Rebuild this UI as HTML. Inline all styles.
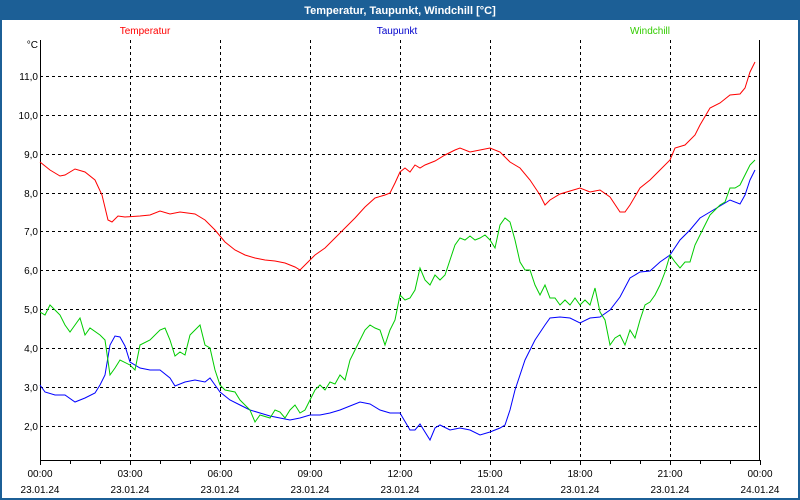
<!DOCTYPE html><html><head><style>body{margin:0;background:#fff}svg{display:block;font-family:"Liberation Sans",sans-serif}</style></head><body>
<svg width="800" height="500" xmlns="http://www.w3.org/2000/svg">
<rect x="0" y="0" width="800" height="500" fill="#1c5f96"/>
<rect x="2" y="20" width="796" height="478" fill="#fff"/>
<text x="400" y="14" fill="#fff" font-size="11" font-weight="bold" text-anchor="middle">Temperatur, Taupunkt, Windchill [°C]</text>
<text x="145" y="34" fill="#ff0000" font-size="10" text-anchor="middle">Temperatur</text>
<text x="397" y="34" fill="#0000cc" font-size="10" text-anchor="middle">Taupunkt</text>
<text x="650" y="34" fill="#33cc00" font-size="10" text-anchor="middle">Windchill</text>
<g stroke="#000" stroke-dasharray="3,3" stroke-width="1">
<path d="M130.5 40V460M220.5 40V460M310.5 40V460M400.5 40V460M490.5 40V460M580.5 40V460M670.5 40V460"/>
<path d="M40 76.5H760M40 115.5H760M40 154.5H760M40 193.5H760M40 231.5H760M40 270.5H760M40 309.5H760M40 348.5H760M40 387.5H760M40 426.5H760"/>
</g>
<path d="M40.5 40V460.5H759.5V40" fill="none" stroke="#000"/>
<g stroke="#000"><path d="M40.5 460V465M70.5 460V464M100.5 460V464M130.5 460V465M160.5 460V464M190.5 460V464M220.5 460V465M250.5 460V464M280.5 460V464M310.5 460V465M340.5 460V464M370.5 460V464M400.5 460V465M430.5 460V464M460.5 460V464M490.5 460V465M520.5 460V464M550.5 460V464M580.5 460V465M610.5 460V464M640.5 460V464M670.5 460V465M700.5 460V464M730.5 460V464M760.5 460V465"/></g>
<g font-size="10" fill="#000" text-anchor="end">
<text x="38" y="48">°C</text>
<text x="38" y="80">11,0</text><text x="38" y="119">10,0</text><text x="38" y="158">9,0</text><text x="38" y="197">8,0</text><text x="38" y="235">7,0</text><text x="38" y="274">6,0</text><text x="38" y="313">5,0</text><text x="38" y="352">4,0</text><text x="38" y="391">3,0</text><text x="38" y="430">2,0</text>
</g>
<g font-size="10" fill="#000" text-anchor="middle">
<text x="40" y="477">00:00</text><text x="130" y="477">03:00</text><text x="220" y="477">06:00</text><text x="310" y="477">09:00</text><text x="400" y="477">12:00</text><text x="490" y="477">15:00</text><text x="580" y="477">18:00</text><text x="670" y="477">21:00</text><text x="760" y="477">00:00</text>
<text x="40" y="493">23.01.24</text><text x="130" y="493">23.01.24</text><text x="220" y="493">23.01.24</text><text x="310" y="493">23.01.24</text><text x="400" y="493">23.01.24</text><text x="490" y="493">23.01.24</text><text x="580" y="493">23.01.24</text><text x="670" y="493">23.01.24</text><text x="760" y="493">24.01.24</text>
</g>
<polyline fill="none" stroke="#ff0000" points="40,162 50,170 60,176 65,175 75,169 85,172 95,180 102,195 108,220 112,222 118,216 125,217 140,216 150,215 160,211 170,214 180,212 195,214 205,220 215,230 225,242 235,250 245,255 255,258 265,260 275,261 285,263 295,267 300,270 305,265 315,255 325,248 335,238 345,228 355,218 365,207 375,198 385,195 390,193 395,183 400,172 405,168 410,172 415,165 420,168 425,165 435,161 445,155 455,150 460,148 470,152 480,150 490,148 500,152 510,162 520,168 530,180 540,195 545,205 550,200 560,194 570,191 580,188 590,192 600,190 610,197 620,212 625,212 630,205 640,188 650,180 660,170 670,160 675,148 685,145 695,135 700,125 710,108 720,103 730,95 740,94 745,88 750,72 755,62"/>
<polyline fill="none" stroke="#0000ff" points="40,385 45,392 55,395 65,395 75,402 85,398 95,393 100,385 105,375 110,345 115,336 120,337 125,346 130,362 140,368 150,370 160,370 170,378 175,386 185,382 195,380 205,382 210,378 215,385 220,392 230,400 240,405 250,410 260,413 270,416 280,418 290,420 300,418 310,415 320,415 330,413 340,410 350,406 360,402 370,404 380,410 390,413 400,413 410,430 415,430 420,424 430,440 435,428 440,425 450,430 460,428 470,430 480,435 490,432 500,428 505,425 510,410 515,390 525,360 535,340 545,325 550,318 560,317 570,318 580,323 590,318 600,317 610,310 620,297 630,278 640,272 650,271 660,262 670,255 680,240 690,230 700,218 710,212 720,206 730,200 740,204 745,195 750,180 755,170"/>
<polyline fill="none" stroke="#00cc00" points="40,312 45,315 50,305 55,310 60,315 65,325 70,332 75,325 80,318 85,335 90,328 100,335 105,340 110,375 115,368 120,360 130,365 135,370 140,345 150,340 160,330 165,328 170,340 175,356 180,352 185,355 190,335 195,330 200,325 205,345 210,348 215,370 220,385 225,390 235,392 240,400 250,410 255,422 260,415 270,418 275,410 280,412 285,418 290,410 295,405 300,413 305,410 310,400 315,390 320,385 325,390 330,382 335,384 340,375 345,380 350,360 355,350 365,330 370,325 375,328 380,330 385,345 390,330 395,320 400,295 405,300 410,298 415,290 420,268 425,280 430,285 435,275 440,280 445,275 450,260 455,245 460,238 465,240 470,236 475,240 480,238 485,235 490,240 495,248 500,225 505,218 510,222 515,240 520,262 525,270 530,270 535,285 540,295 545,285 550,298 555,298 560,305 565,300 570,305 575,298 580,305 585,300 590,305 595,288 600,312 605,320 610,345 615,338 620,335 625,345 630,330 635,338 640,320 645,305 650,302 655,295 660,285 665,272 670,255 675,262 680,268 685,262 690,262 695,245 700,235 705,225 710,215 715,210 720,205 725,202 730,188 735,188 740,185 745,175 750,165 755,160"/>
</svg>
</body></html>
